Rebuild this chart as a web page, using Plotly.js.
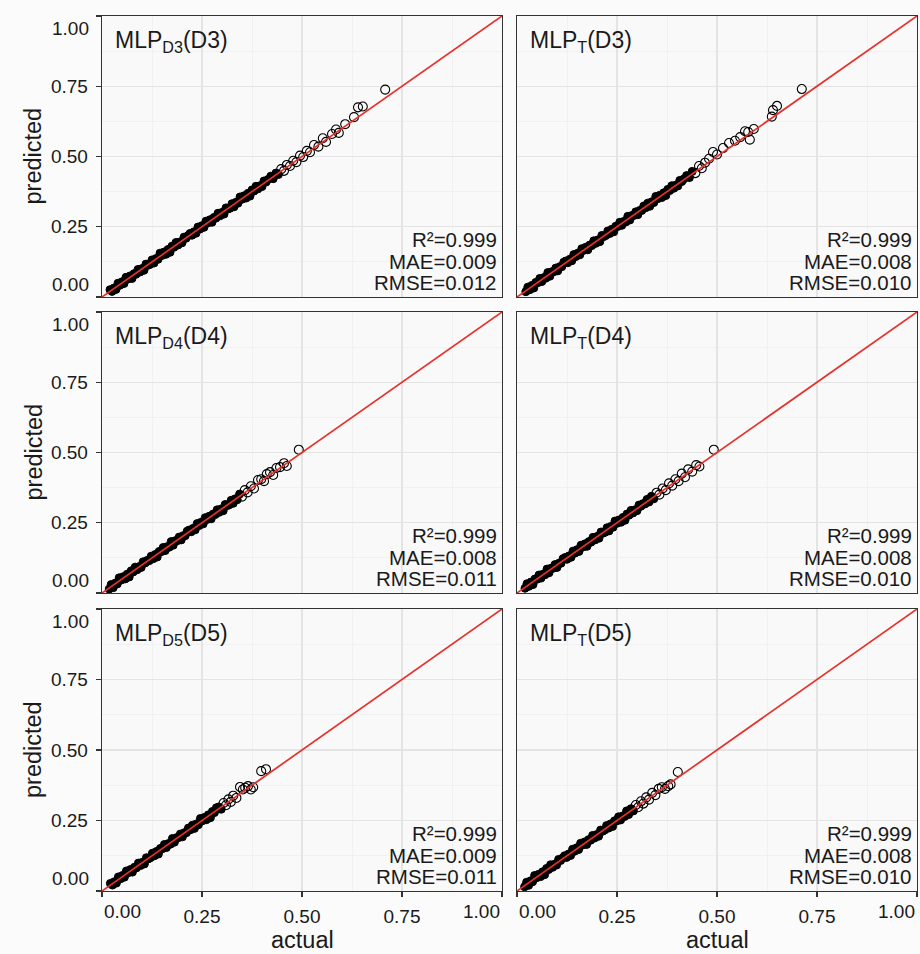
<!DOCTYPE html>
<html>
<head>
<meta charset="utf-8">
<script src="https://cdn.plot.ly/plotly-3.0.1.min.js"></script>
<style>html,body{margin:0;padding:0;background:#fbfbfb;}#chart{width:920px;height:954px;}</style>
</head>
<body>
<div id="chart"></div>
<script>
// ---------- data ----------
const tickVals = [0, 0.25, 0.5, 0.75, 1];
const tickLabels = ['0.00', '0.25', '0.50', '0.75', '1.00'];
const refLine = [0, 1];

const panelLabels = ['MLP<sub>D3</sub>(D3)', 'MLP<sub>T</sub>(D3)', 'MLP<sub>D4</sub>(D4)', 'MLP<sub>T</sub>(D4)', 'MLP<sub>D5</sub>(D5)', 'MLP<sub>T</sub>(D5)'];
const r2Values = ['0.999', '0.999', '0.999', '0.999', '0.999', '0.999'];
const maeValues = ['0.009', '0.008', '0.008', '0.008', '0.009', '0.008'];
const rmseValues = ['0.012', '0.010', '0.011', '0.010', '0.011', '0.010'];

// Panel 1: MLP_D3 (D3)
const actual1 = [0.020,0.025,0.030,0.035,0.040,0.045,0.050,0.055,0.060,0.065,0.070,0.075,0.080,0.085,0.090,0.095,0.100,0.105,0.110,0.115,
0.120,0.125,0.130,0.135,0.140,0.145,0.150,0.155,0.160,0.165,0.170,0.175,0.180,0.185,0.190,0.195,0.200,0.205,0.210,0.215,
0.220,0.225,0.230,0.235,0.240,0.245,0.250,0.255,0.260,0.265,0.270,0.275,0.280,0.285,0.290,0.295,0.300,0.305,0.310,0.315,
0.320,0.325,0.330,0.335,0.340,0.345,0.350,0.355,0.360,0.365,0.370,0.375,0.380,0.385,0.390,0.395,0.400,0.405,0.410,0.415,
0.422,0.428,0.435,0.441,0.448,0.455,0.462,0.470,0.478,0.486,0.495,0.503,0.512,0.520,0.530,0.541,0.552,0.560,0.575,0.585,0.592,0.608,0.630,0.640,0.652,0.708];
const predicted1 = [0.026,0.020,0.032,0.027,0.049,0.042,0.054,0.048,0.070,0.064,0.075,0.066,0.083,0.081,0.098,0.089,0.101,0.095,0.117,0.113,
0.116,0.132,0.121,0.137,0.134,0.156,0.148,0.160,0.152,0.169,0.159,0.181,0.177,0.194,0.185,0.196,0.193,0.213,0.209,0.218,
0.226,0.220,0.232,0.227,0.249,0.242,0.254,0.248,0.270,0.264,0.275,0.266,0.283,0.281,0.298,0.289,0.301,0.295,0.317,0.313,
0.316,0.332,0.321,0.337,0.334,0.356,0.348,0.360,0.352,0.369,0.359,0.381,0.377,0.394,0.385,0.396,0.393,0.413,0.409,0.418,
0.430,0.421,0.441,0.436,0.455,0.449,0.470,0.466,0.485,0.480,0.503,0.498,0.520,0.515,0.541,0.535,0.565,0.552,0.580,0.596,0.584,0.615,0.640,0.675,0.678,0.738];

// Panel 2: MLP_T (D3)
const actual2 = [0.022,0.027,0.032,0.037,0.042,0.047,0.052,0.057,0.062,0.067,0.072,0.077,0.082,0.087,0.092,0.097,0.102,0.107,0.112,0.117,
0.122,0.127,0.132,0.137,0.142,0.147,0.152,0.157,0.162,0.167,0.172,0.177,0.182,0.187,0.192,0.197,0.202,0.207,0.212,0.217,
0.222,0.227,0.232,0.237,0.242,0.247,0.252,0.257,0.262,0.267,0.272,0.277,0.282,0.287,0.292,0.297,0.302,0.307,0.312,0.317,
0.322,0.327,0.332,0.337,0.342,0.347,0.352,0.357,0.362,0.367,0.372,0.377,0.382,0.387,0.392,0.397,0.402,0.407,0.412,0.417,
0.424,0.431,0.438,0.446,0.455,0.462,0.470,0.480,0.490,0.500,0.515,0.530,0.545,0.558,0.570,0.578,0.582,0.592,0.637,0.640,0.650,0.712];
const predicted2 = [0.019,0.035,0.026,0.041,0.032,0.052,0.051,0.066,0.055,0.069,0.067,0.087,0.074,0.090,0.090,0.103,0.093,0.108,0.108,0.124,
0.128,0.122,0.134,0.129,0.151,0.144,0.156,0.150,0.172,0.166,0.177,0.168,0.185,0.183,0.200,0.191,0.203,0.197,0.219,0.215,
0.219,0.235,0.226,0.241,0.232,0.252,0.251,0.266,0.255,0.269,0.267,0.287,0.274,0.290,0.290,0.303,0.293,0.308,0.308,0.324,
0.318,0.334,0.323,0.339,0.336,0.358,0.350,0.362,0.354,0.371,0.361,0.383,0.379,0.396,0.387,0.398,0.395,0.415,0.411,0.420,
0.432,0.425,0.447,0.441,0.466,0.458,0.478,0.492,0.516,0.507,0.530,0.548,0.556,0.569,0.590,0.587,0.560,0.598,0.642,0.665,0.680,0.740];

// Panel 3: MLP_D4 (D4)
const actual3 = [0.018,0.023,0.028,0.033,0.038,0.043,0.048,0.053,0.058,0.063,0.068,0.073,0.078,0.083,0.088,0.093,0.098,0.103,0.108,0.113,
0.118,0.123,0.128,0.133,0.138,0.143,0.148,0.153,0.158,0.163,0.168,0.173,0.178,0.183,0.188,0.193,0.198,0.203,0.208,0.213,
0.218,0.223,0.228,0.233,0.238,0.243,0.248,0.253,0.258,0.263,0.268,0.273,0.278,0.283,0.288,0.293,0.298,0.303,0.308,0.313,
0.318,0.323,0.328,0.333,0.338,
0.344,0.350,0.357,0.364,0.372,0.380,0.390,0.398,0.405,0.412,0.420,0.428,0.436,0.445,0.455,0.462,0.492];
const predicted3 = [0.014,0.030,0.019,0.035,0.032,0.054,0.046,0.058,0.050,0.067,0.057,0.079,0.075,0.092,0.083,0.094,0.091,0.111,0.107,0.116,
0.115,0.131,0.122,0.137,0.128,0.148,0.147,0.162,0.151,0.165,0.163,0.183,0.170,0.186,0.186,0.199,0.189,0.204,0.204,0.220,
0.224,0.218,0.230,0.225,0.247,0.240,0.252,0.246,0.268,0.262,0.273,0.264,0.281,0.279,0.296,0.287,0.299,0.293,0.315,0.311,
0.314,0.330,0.319,0.335,0.332,
0.352,0.343,0.366,0.358,0.380,0.372,0.402,0.405,0.398,0.423,0.430,0.420,0.445,0.448,0.462,0.452,0.510];

// Panel 4: MLP_T (D4)
const actual4 = [0.020,0.025,0.030,0.035,0.040,0.045,0.050,0.055,0.060,0.065,0.070,0.075,0.080,0.085,0.090,0.095,0.100,0.105,0.110,0.115,
0.120,0.125,0.130,0.135,0.140,0.145,0.150,0.155,0.160,0.165,0.170,0.175,0.180,0.185,0.190,0.195,0.200,0.205,0.210,0.215,
0.220,0.225,0.230,0.235,0.240,0.245,0.250,0.255,0.260,0.265,0.270,0.275,0.280,0.285,0.290,0.295,0.300,0.305,0.310,0.315,
0.320,0.325,0.330,
0.336,0.342,0.349,0.356,0.364,0.372,0.380,0.388,0.396,0.404,0.412,0.420,0.428,0.438,0.448,0.456,0.492];
const predicted4 = [0.017,0.033,0.024,0.039,0.030,0.050,0.049,0.064,0.053,0.067,0.065,0.085,0.072,0.088,0.088,0.101,0.091,0.106,0.106,0.122,
0.126,0.120,0.132,0.127,0.149,0.142,0.154,0.148,0.170,0.164,0.175,0.166,0.183,0.181,0.198,0.189,0.201,0.195,0.217,0.213,
0.216,0.232,0.221,0.237,0.234,0.256,0.248,0.260,0.252,0.269,0.259,0.281,0.277,0.294,0.285,0.296,0.293,0.313,0.309,0.318,
0.317,0.333,0.324,
0.344,0.335,0.357,0.350,0.372,0.366,0.390,0.382,0.405,0.398,0.425,0.412,0.440,0.432,0.455,0.450,0.510];

// Panel 5: MLP_D5 (D5)
const actual5 = [0.021,0.026,0.031,0.036,0.041,0.046,0.051,0.056,0.061,0.066,0.071,0.076,0.081,0.086,0.091,0.096,0.101,0.106,0.111,0.116,
0.121,0.126,0.131,0.136,0.141,0.146,0.151,0.156,0.161,0.166,0.171,0.176,0.181,0.186,0.191,0.196,0.201,0.206,0.211,0.216,
0.221,0.226,0.231,0.236,0.241,0.246,0.251,0.256,0.261,0.266,0.271,0.276,0.281,0.286,
0.292,0.298,0.304,0.310,0.316,0.322,0.328,0.336,0.345,0.352,0.358,0.365,0.372,0.378,0.398,0.410];
const predicted5 = [0.027,0.021,0.033,0.028,0.050,0.043,0.055,0.049,0.071,0.065,0.076,0.067,0.084,0.082,0.099,0.090,0.102,0.096,0.118,0.114,
0.118,0.134,0.125,0.140,0.131,0.151,0.150,0.165,0.154,0.168,0.166,0.186,0.173,0.189,0.189,0.202,0.192,0.207,0.207,0.223,
0.217,0.233,0.222,0.238,0.235,0.257,0.249,0.261,0.253,0.270,0.260,0.282,0.278,0.295,
0.298,0.290,0.312,0.304,0.325,0.316,0.338,0.330,0.369,0.360,0.366,0.372,0.360,0.368,0.425,0.432];

// Panel 6: MLP_T (D5)
const actual6 = [0.019,0.024,0.029,0.034,0.039,0.044,0.049,0.054,0.059,0.064,0.069,0.074,0.079,0.084,0.089,0.094,0.099,0.104,0.109,0.114,
0.119,0.124,0.129,0.134,0.139,0.144,0.149,0.154,0.159,0.164,0.169,0.174,0.179,0.184,0.189,0.194,0.199,0.204,0.209,0.214,
0.219,0.224,0.229,0.234,0.239,0.244,0.249,0.254,0.259,0.264,0.269,0.274,0.279,
0.285,0.291,0.297,0.303,0.310,0.316,0.323,0.330,0.338,0.346,0.354,0.362,0.370,0.378,0.384,0.402];
const predicted6 = [0.015,0.031,0.020,0.036,0.033,0.055,0.047,0.059,0.051,0.068,0.058,0.080,0.076,0.093,0.084,0.095,0.092,0.112,0.108,0.117,
0.125,0.119,0.131,0.126,0.148,0.141,0.153,0.147,0.169,0.163,0.174,0.165,0.182,0.180,0.197,0.188,0.200,0.194,0.216,0.212,
0.216,0.232,0.223,0.238,0.229,0.249,0.248,0.263,0.252,0.266,0.264,0.284,0.271,
0.292,0.284,0.305,0.297,0.318,0.310,0.332,0.324,0.348,0.340,0.362,0.368,0.362,0.372,0.378,0.422];

// number of leading points in each set that form the densely overplotted band
const denseCounts = [84, 83, 66, 65, 56, 55];

const actualSets = [actual1, actual2, actual3, actual4, actual5, actual6];
const predictedSets = [predicted1, predicted2, predicted3, predicted4, predicted5, predicted6];

// ---------- layout helpers ----------
const W = 920, H = 954;
const colX = [[102, 502], [517, 917]];           // pixel extents of columns
const rowY = [[16, 297], [312, 593], [609, 891]]; // pixel extents of rows (top, bottom)
const FONT = 'Liberation Sans, Arial, sans-serif';
const TXT = '#1a1a1a';

const traces = [];
const layout = {
  width: W, height: H,
  margin: {l: 0, r: 0, t: 0, b: 0},
  paper_bgcolor: '#fbfbfb',
  plot_bgcolor: '#f9f9f9',
  showlegend: false,
  font: {family: FONT, color: TXT},
  annotations: []
};

for (let k = 0; k < 6; k++) {
  const row = Math.floor(k / 2), col = k % 2;
  const xs = k === 0 ? '' : String(k + 1);
  const xName = 'x' + xs, yName = 'y' + xs;
  const isLeft = col === 0, isBottom = row === 2;
  const n = denseCounts[k];

  // overplotted band: circles merge into a solid black band
  traces.push({
    type: 'scatter', mode: 'markers',
    x: actualSets[k].slice(0, n), y: predictedSets[k].slice(0, n),
    xaxis: xName, yaxis: yName,
    marker: {symbol: 'circle', size: 8, color: '#000000', line: {width: 1, color: '#000000'}},
    hoverinfo: 'skip'
  });
  // sparse points: thin open circles
  traces.push({
    type: 'scatter', mode: 'markers',
    x: actualSets[k].slice(n), y: predictedSets[k].slice(n),
    xaxis: xName, yaxis: yName,
    marker: {symbol: 'circle-open', size: 9, color: '#000000', line: {width: 1.1}},
    hoverinfo: 'skip'
  });
  traces.push({
    type: 'scatter', mode: 'lines',
    x: refLine, y: refLine,
    xaxis: xName, yaxis: yName,
    line: {color: '#e8302a', width: 1.7},
    hoverinfo: 'skip'
  });

  const common = {
    range: [0, 1], autorange: false,
    tickmode: 'array', tickvals: tickVals,
    ticktext: ['', tickLabels[1], tickLabels[2], tickLabels[3], ''],
    ticklen: 5, tickwidth: 1.3, tickcolor: '#333333',
    showgrid: true, gridcolor: '#e4e4e4', gridwidth: 1.3,
    minor: {tickvals: [0.125, 0.375, 0.625, 0.875], showgrid: true, gridcolor: '#efefef', gridwidth: 0.8, ticks: ''},
    showline: true, mirror: true, linecolor: '#333333', linewidth: 1.3,
    zeroline: false, fixedrange: true,
    tickfont: {family: FONT, size: 19, color: TXT}
  };

  layout['xaxis' + xs] = Object.assign({}, common, {
    domain: [colX[col][0] / W, colX[col][1] / W],
    anchor: yName,
    ticks: isBottom ? 'outside' : '',
    showticklabels: isBottom,
    ticklabelstandoff: 3
  });
  layout['yaxis' + xs] = Object.assign({}, common, {
    domain: [1 - rowY[row][1] / H, 1 - rowY[row][0] / H],
    anchor: xName,
    ticks: isLeft ? 'outside' : '',
    showticklabels: isLeft,
    ticklabelstandoff: 4
  });

  // panel label
  layout.annotations.push({
    xref: xName, yref: yName, x: 0.028, y: 0.968, xanchor: 'left', yanchor: 'top',
    text: panelLabels[k], showarrow: false,
    font: {family: FONT, size: 23, color: TXT}
  });
  // stats lines
  const statLines = ['R²=' + r2Values[k], 'MAE=' + maeValues[k], 'RMSE=' + rmseValues[k]];
  const statY = [0.204, 0.127, 0.051];
  for (let s = 0; s < 3; s++) {
    layout.annotations.push({
      xref: xName, yref: yName, x: 0.992, y: statY[s], xanchor: 'right', yanchor: 'middle',
      text: statLines[s], showarrow: false,
      font: {family: FONT, size: 20.5, color: TXT}
    });
  }

  // end tick labels (0.00 / 1.00) justified toward the panel
  if (isLeft) {
    layout.annotations.push({
      xref: 'paper', yref: yName, x: (colX[0][0] - 11) / W, y: 1, xanchor: 'right', yanchor: 'top',
      text: tickLabels[4], showarrow: false, font: {family: FONT, size: 19, color: TXT}
    });
    layout.annotations.push({
      xref: 'paper', yref: yName, x: (colX[0][0] - 11) / W, y: 0, xanchor: 'right', yanchor: 'bottom',
      text: tickLabels[0], showarrow: false, font: {family: FONT, size: 19, color: TXT}
    });
  }
  if (isBottom) {
    layout.annotations.push({
      xref: xName, yref: 'paper', x: 0, y: 1 - 911 / H, xanchor: 'left', yanchor: 'middle',
      text: tickLabels[0], showarrow: false, font: {family: FONT, size: 19, color: TXT}
    });
    layout.annotations.push({
      xref: xName, yref: 'paper', x: 1, y: 1 - 911 / H, xanchor: 'right', yanchor: 'middle',
      text: tickLabels[4], showarrow: false, font: {family: FONT, size: 19, color: TXT}
    });
  }
}

// axis titles
for (let r = 0; r < 3; r++) {
  layout.annotations.push({
    xref: 'paper', yref: 'paper', x: 33 / W, y: 1 - (rowY[r][0] + rowY[r][1]) / 2 / H,
    xanchor: 'center', yanchor: 'middle', textangle: -90,
    text: 'predicted', showarrow: false, font: {family: FONT, size: 23.5, color: TXT}
  });
}
for (let c = 0; c < 2; c++) {
  layout.annotations.push({
    xref: 'paper', yref: 'paper', x: (colX[c][0] + colX[c][1]) / 2 / W, y: 1 - 940 / H,
    xanchor: 'center', yanchor: 'middle',
    text: 'actual', showarrow: false, font: {family: FONT, size: 23.5, color: TXT}
  });
}

Plotly.newPlot('chart', traces, layout, {staticPlot: true});
</script>
</body>
</html>
